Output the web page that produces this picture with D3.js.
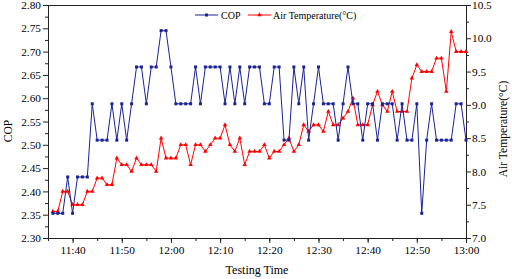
<!DOCTYPE html>
<html>
<head>
<meta charset="utf-8">
<script src="https://cdn.jsdelivr.net/npm/d3@7"></script>
<style>
  html, body { margin: 0; padding: 0; background: #fff; }
  svg { display: block; font-family: "Liberation Serif", "Times New Roman", serif; }
</style>
</head>
<body>
<div id="viz"></div>
<script>
const width = 512;
const height = 279;

// one reading every minute, starting here
const startTime = "11:36";

const cop = [
    2.353, 2.353, 2.353, 2.431, 2.353, 2.431, 2.431, 2.431, 2.588, 2.510,
    2.510, 2.510, 2.588, 2.510, 2.588, 2.510, 2.588, 2.667, 2.667, 2.588,
    2.667, 2.667, 2.745, 2.745, 2.667, 2.588, 2.588, 2.588, 2.588, 2.667,
    2.588, 2.667, 2.667, 2.667, 2.667, 2.588, 2.667, 2.588, 2.667, 2.588,
    2.667, 2.667, 2.667, 2.588, 2.588, 2.667, 2.667, 2.510, 2.510, 2.667,
    2.588, 2.667, 2.510, 2.588, 2.667, 2.588, 2.588, 2.588, 2.510, 2.588,
    2.667, 2.588, 2.588, 2.510, 2.588, 2.588, 2.510, 2.588, 2.588, 2.588,
    2.510, 2.588, 2.510, 2.510, 2.588, 2.353, 2.510, 2.588, 2.510, 2.510,
    2.510, 2.510, 2.588, 2.588, 2.510
];

const airTemp = [
    7.4, 7.4, 7.7, 7.7, 7.5, 7.5, 7.5, 7.7, 7.7, 7.9,
    7.9, 7.8, 7.8, 8.2, 8.1, 8.1, 8.0, 8.2, 8.1, 8.1,
    8.1, 8.0, 8.5, 8.2, 8.2, 8.2, 8.4, 8.4, 8.1, 8.4,
    8.4, 8.3, 8.4, 8.5, 8.5, 8.7, 8.4, 8.3, 8.5, 8.1,
    8.3, 8.3, 8.3, 8.4, 8.2, 8.3, 8.3, 8.4, 8.5, 8.3,
    8.4, 8.7, 8.6, 8.7, 8.7, 8.6, 8.9, 8.7, 8.7, 8.8,
    8.9, 9.1, 8.7, 8.7, 8.7, 9.0, 9.2, 9.0, 8.9, 9.2,
    8.9, 8.9, 8.9, 9.4, 9.6, 9.5, 9.5, 9.5, 9.7, 9.7,
    9.2, 10.1, 9.8, 9.8, 9.8
];

const copTicks = [2.30, 2.35, 2.40, 2.45, 2.50, 2.55, 2.60, 2.65, 2.70, 2.75, 2.80];
const tempTicks = [7.0, 7.5, 8.0, 8.5, 9.0, 9.5, 10.0, 10.5];
const timeTicks = ["11:40", "11:50", "12:00", "12:10", "12:20", "12:30", "12:40", "12:50", "13:00"];

const copColor = "#1a2396";
const tempColor = "#ff0000";

const parseTime = d3.timeParse("%H:%M");
const t0 = parseTime(startTime);
const data = cop.map((c, i) => ({
    time: d3.timeMinute.offset(t0, i),
    cop: c,
    temp: airTemp[i]
}));

const svg = d3.select("#viz")
    .append("svg")
    .attr("width", width)
    .attr("height", height)
    .attr("viewBox", `0 0 ${width} ${height}`);

const margin = {top: 5, right: 46, bottom: 41, left: 48};
const x0 = margin.left, x1 = width - margin.right;
const y0 = height - margin.bottom, y1 = margin.top;

const xScale = d3.scaleTime()
    .domain([parseTime("11:35"), parseTime("13:00")])
    .range([x0, x1]);

const yCop = d3.scaleLinear()
    .domain([copTicks[0], copTicks[copTicks.length - 1]])
    .range([y0, y1]);

const yTemp = d3.scaleLinear()
    .domain([tempTicks[0], tempTicks[tempTicks.length - 1]])
    .range([y0, y1]);

const mids = arr => arr.slice(1).map((v, i) => (v + arr[i]) / 2);

// minor ticks first
svg.append("g")
    .attr("transform", `translate(0,${y0})`)
    .call(d3.axisBottom(xScale)
        .tickValues(xScale.ticks(d3.timeMinute.every(5)))
        .tickFormat("")
        .tickSize(3)
        .tickSizeOuter(0));

svg.append("g")
    .attr("transform", `translate(${x0},0)`)
    .call(d3.axisLeft(yCop).tickValues(mids(copTicks)).tickFormat("").tickSize(3).tickSizeOuter(0));

svg.append("g")
    .attr("transform", `translate(${x1},0)`)
    .call(d3.axisRight(yTemp).tickValues(mids(tempTicks)).tickFormat("").tickSize(3).tickSizeOuter(0));

// major axes
const xAxisG = svg.append("g")
    .attr("transform", `translate(0,${y0})`)
    .call(d3.axisBottom(xScale)
        .tickValues(timeTicks.map(parseTime))
        .tickFormat(d3.timeFormat("%H:%M"))
        .tickSize(5)
        .tickPadding(3)
        .tickSizeOuter(0));

const yAxisG = svg.append("g")
    .attr("transform", `translate(${x0},0)`)
    .call(d3.axisLeft(yCop)
        .tickValues(copTicks)
        .tickFormat(d3.format(".2f"))
        .tickSize(5)
        .tickPadding(2)
        .tickSizeOuter(0));

const y2AxisG = svg.append("g")
    .attr("transform", `translate(${x1},0)`)
    .call(d3.axisRight(yTemp)
        .tickValues(tempTicks)
        .tickFormat(d3.format(".1f"))
        .tickSize(5)
        .tickPadding(1)
        .tickSizeOuter(0));

svg.selectAll(".tick text")
    .attr("font-family", "Liberation Serif, Times New Roman, serif")
    .attr("font-size", 11.3)
    .attr("fill", "#000");
svg.selectAll(".domain, .tick line").attr("stroke", "#222");

// top border of the frame
svg.append("line")
    .attr("x1", x0).attr("x2", x1)
    .attr("y1", y1 + 0.5).attr("y2", y1 + 0.5)
    .attr("stroke", "#222");

// axis titles
svg.append("text")
    .attr("x", (x0 + x1) / 2)
    .attr("y", 274)
    .attr("text-anchor", "middle")
    .attr("font-size", 12)
    .text("Testing Time");

svg.append("text")
    .attr("transform", `translate(8,131) rotate(-90)`)
    .attr("text-anchor", "middle")
    .attr("dy", "0.35em")
    .attr("font-size", 11.5)
    .text("COP");

svg.append("text")
    .attr("transform", `translate(503,129) rotate(-90)`)
    .attr("text-anchor", "middle")
    .attr("dy", "0.35em")
    .attr("font-size", 11.6)
    .text("Air Temperature(\u00B0C)");

// series
const copLine = d3.line().x(d => xScale(d.time)).y(d => yCop(d.cop));
const tempLine = d3.line().x(d => xScale(d.time)).y(d => yTemp(d.temp));

svg.append("path")
    .datum(data)
    .attr("fill", "none")
    .attr("stroke", tempColor)
    .attr("stroke-width", 1)
    .attr("d", tempLine);

svg.append("g").selectAll("path").data(data)
    .enter().append("path")
        .attr("transform", d => `translate(${xScale(d.time)},${yTemp(d.temp)})`)
        .attr("d", d3.symbol(d3.symbolTriangle, 9))
        .attr("fill", tempColor);

svg.append("path")
    .datum(data)
    .attr("fill", "none")
    .attr("stroke", copColor)
    .attr("stroke-width", 1)
    .attr("d", copLine);

svg.append("g").selectAll("rect").data(data)
    .enter().append("rect")
        .attr("x", d => xScale(d.time) - 1.5)
        .attr("y", d => yCop(d.cop) - 1.5)
        .attr("width", 3)
        .attr("height", 3)
        .attr("fill", copColor);

// legend
const legend = svg.append("g").attr("transform", "translate(0,15)");
const items = [
    {label: "COP", color: copColor, sym: "square", lx: 195, tx: 221},
    {label: "Air Temperature(\u00B0C)", color: tempColor, sym: "tri", lx: 248, tx: 273}
];
items.forEach(it => {
    legend.append("line")
        .attr("x1", it.lx).attr("x2", it.lx + 23)
        .attr("stroke", it.color);
    if (it.sym === "square") {
        legend.append("rect")
            .attr("x", it.lx + 10).attr("y", -1.5)
            .attr("width", 3).attr("height", 3)
            .attr("fill", it.color);
    } else {
        legend.append("path")
            .attr("transform", `translate(${it.lx + 11.5},0)`)
            .attr("d", d3.symbol(d3.symbolTriangle, 9))
            .attr("fill", it.color);
    }
    legend.append("text")
        .attr("x", it.tx)
        .attr("dy", "0.35em")
        .attr("font-size", 10)
        .text(it.label);
});
</script>
</body>
</html>
